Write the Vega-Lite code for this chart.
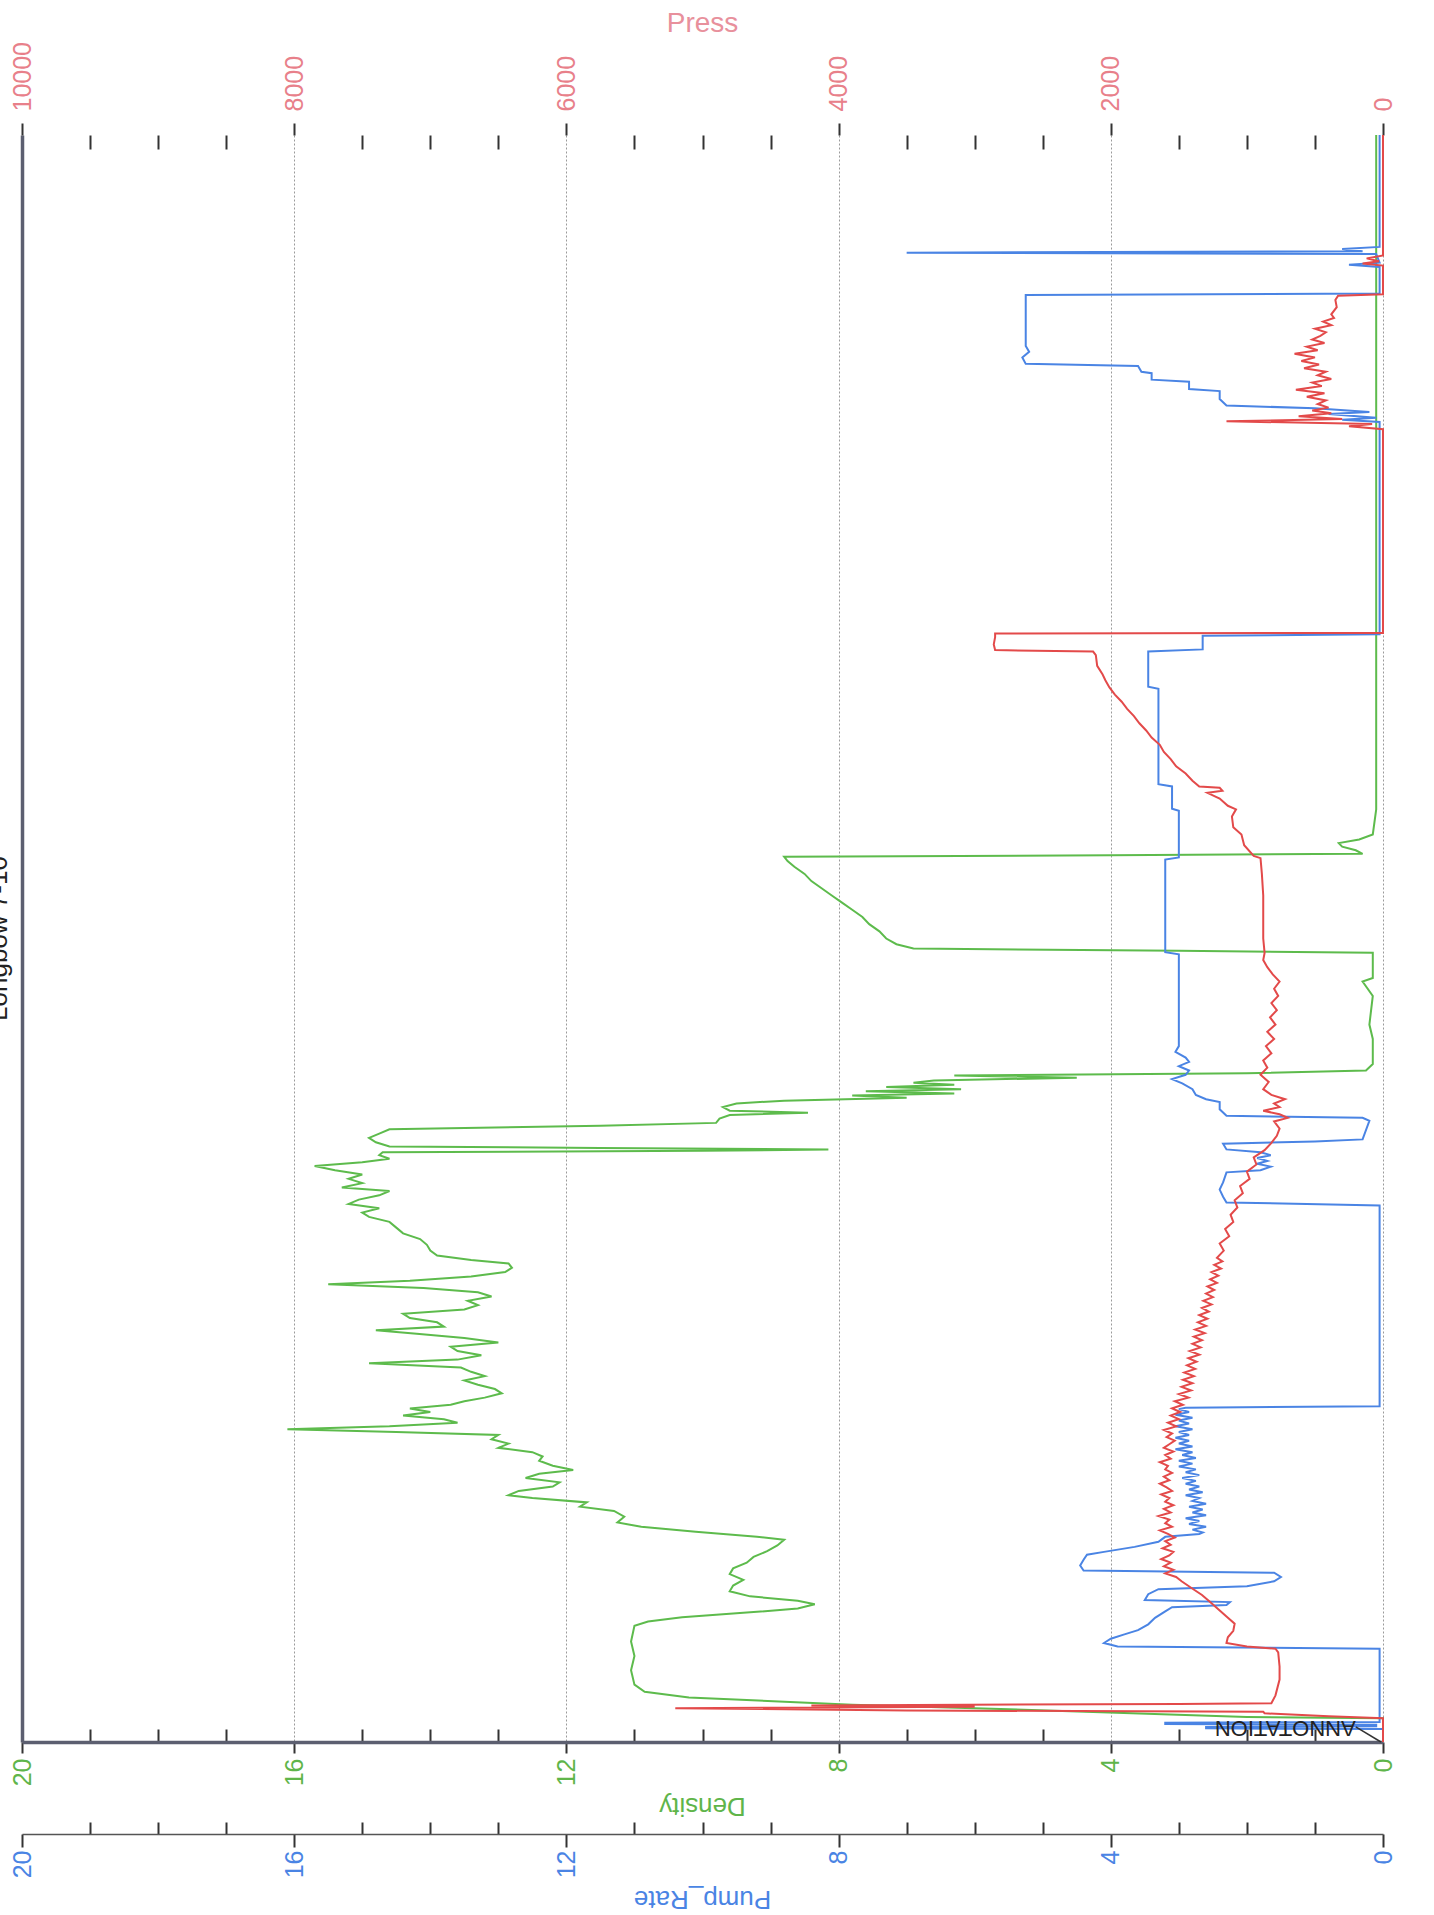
{
  "$schema": "https://vega.github.io/schema/vega-lite/v6.json",
  "width": 1361,
  "height": 1607,
  "autosize": {"type": "none"},
  "padding": {"left": 22, "top": 135, "right": 51, "bottom": 173},
  "background": "white",
  "config": {
    "view": {"stroke": null},
    "font": "Liberation Sans",
    "axis": {"labelFont": "Liberation Sans", "titleFont": "Liberation Sans", "titleFontWeight": "normal"}
  },
  "datasets": {
    "density": [
      {"t":0,"v":0},{"t":3.3,"v":0},{"t":3.5,"v":2.0},{"t":4.3,"v":4.6},{"t":5.2,"v":7.8},{"t":6.2,"v":10.2},{"t":7.0,"v":10.85},{"t":8.0,"v":11.0},{"t":10,"v":11.05},{"t":12,"v":11.0},{"t":14,"v":11.05},{"t":16.2,"v":11.0},{"t":16.8,"v":10.8},{"t":17.4,"v":10.3},{"t":18.0,"v":9.4},{"t":18.6,"v":8.6},{"t":19.2,"v":8.35},{"t":19.7,"v":8.6},{"t":20.3,"v":9.3},{"t":21.0,"v":9.6},{"t":21.8,"v":9.55},{"t":22.6,"v":9.4},{"t":23.4,"v":9.6},{"t":24.2,"v":9.55},{"t":25.0,"v":9.35},{"t":25.8,"v":9.25},{"t":26.6,"v":9.05},{"t":27.4,"v":8.9},{"t":28.2,"v":8.8},{"t":28.6,"v":9.2},{"t":29.3,"v":10.1},{"t":30.0,"v":10.9},{"t":30.6,"v":11.25},{"t":31.4,"v":11.15},{"t":32.2,"v":11.3},{"t":32.8,"v":11.8},{"t":33.4,"v":11.7},{"t":34.0,"v":12.5},{"t":34.4,"v":12.85},{"t":35.0,"v":12.7},{"t":35.6,"v":12.2},{"t":36.2,"v":12.1},{"t":36.8,"v":12.6},{"t":37.4,"v":12.4},{"t":37.9,"v":11.9},{"t":38.5,"v":12.2},{"t":39.2,"v":12.4},{"t":39.8,"v":12.35},{"t":40.4,"v":12.5},{"t":41.0,"v":13.0},{"t":41.6,"v":12.85},{"t":42.2,"v":13.1},{"t":42.8,"v":13.0},{"t":43.2,"v":14.5},{"t":43.6,"v":16.1},{"t":44.0,"v":14.6},{"t":44.5,"v":13.6},{"t":45.0,"v":13.8},{"t":45.5,"v":14.4},{"t":46.0,"v":14.0},{"t":46.5,"v":14.3},{"t":47.0,"v":13.7},{"t":47.5,"v":13.5},{"t":48.0,"v":13.2},{"t":48.6,"v":12.95},{"t":49.2,"v":13.05},{"t":49.8,"v":13.3},{"t":50.4,"v":13.5},{"t":51.0,"v":13.2},{"t":51.6,"v":13.4},{"t":52.2,"v":13.55},{"t":52.8,"v":14.9},{"t":53.3,"v":13.6},{"t":53.9,"v":13.25},{"t":54.5,"v":13.6},{"t":55.1,"v":13.7},{"t":55.7,"v":13.0},{"t":56.3,"v":13.5},{"t":56.9,"v":14.2},{"t":57.4,"v":14.8},{"t":57.9,"v":13.8},{"t":58.5,"v":13.9},{"t":59.1,"v":14.3},{"t":59.7,"v":14.4},{"t":60.3,"v":13.5},{"t":60.9,"v":13.3},{"t":61.5,"v":13.45},{"t":62.1,"v":13.1},{"t":62.7,"v":13.3},{"t":63.3,"v":14.1},{"t":63.8,"v":15.5},{"t":64.3,"v":14.3},{"t":64.9,"v":13.4},{"t":65.5,"v":12.9},{"t":66.1,"v":12.8},{"t":66.7,"v":12.85},{"t":67.2,"v":13.4},{"t":67.8,"v":13.9},{"t":68.5,"v":14.0},{"t":69.3,"v":14.05},{"t":70.1,"v":14.15},{"t":70.9,"v":14.4},{"t":71.7,"v":14.5},{"t":72.5,"v":14.6},{"t":73.2,"v":14.9},{"t":73.8,"v":15.0},{"t":74.4,"v":14.75},{"t":75.0,"v":15.2},{"t":75.6,"v":15.05},{"t":76.2,"v":14.75},{"t":76.8,"v":14.6},{"t":77.3,"v":15.3},{"t":77.9,"v":15.0},{"t":78.5,"v":15.2},{"t":79.1,"v":15.0},{"t":79.7,"v":15.4},{"t":80.3,"v":15.7},{"t":80.8,"v":15.0},{"t":81.3,"v":14.6},{"t":81.8,"v":14.75},{"t":82.2,"v":14.7},{"t":82.4,"v":10.0},{"t":82.6,"v":8.15},{"t":82.8,"v":11.5},{"t":83.0,"v":14.6},{"t":83.6,"v":14.8},{"t":84.2,"v":14.9},{"t":84.8,"v":14.75},{"t":85.4,"v":14.6},{"t":85.9,"v":11.5},{"t":86.3,"v":9.8},{"t":86.9,"v":9.75},{"t":87.4,"v":9.6},{"t":87.7,"v":8.45},{"t":88.0,"v":9.6},{"t":88.5,"v":9.7},{"t":89.0,"v":9.5},{"t":89.4,"v":8.8},{"t":89.8,"v":7.0},{"t":90.1,"v":7.8},{"t":90.4,"v":6.3},{"t":90.7,"v":7.6},{"t":91.0,"v":6.2},{"t":91.3,"v":7.3},{"t":91.6,"v":6.3},{"t":91.9,"v":6.9},{"t":92.2,"v":6.6},{"t":92.6,"v":4.5},{"t":92.9,"v":6.3},{"t":93.2,"v":2.0},{"t":93.6,"v":0.25},{"t":94.5,"v":0.15},{"t":98,"v":0.15},{"t":100,"v":0.2},{"t":104,"v":0.15},{"t":106,"v":0.3},{"t":106.5,"v":0.15},{"t":110,"v":0.15},{"t":110.3,"v":3.0},{"t":110.6,"v":6.9},{"t":111.2,"v":7.15},{"t":112,"v":7.3},{"t":113,"v":7.4},{"t":114,"v":7.55},{"t":115,"v":7.65},{"t":116,"v":7.8},{"t":117,"v":7.95},{"t":118,"v":8.1},{"t":119,"v":8.25},{"t":120,"v":8.4},{"t":121,"v":8.5},{"t":122,"v":8.65},{"t":122.8,"v":8.75},{"t":123.4,"v":8.8},{"t":123.6,"v":4.0},{"t":123.8,"v":0.3},{"t":124.3,"v":0.4},{"t":124.8,"v":0.6},{"t":125.3,"v":0.65},{"t":125.8,"v":0.35},{"t":126.5,"v":0.15},{"t":130,"v":0.1},{"t":224,"v":0.1}
    ],
    "pump": [
      {"t":0,"v":0},{"t":1.8,"v":0},{"t":1.9,"v":2.6},{"t":2.1,"v":2.6},{"t":2.2,"v":0.1},{"t":2.4,"v":0.1},{"t":2.5,"v":3.2},{"t":2.7,"v":3.2},{"t":2.8,"v":0.05},{"t":13.0,"v":0.05},{"t":13.3,"v":3.9},{"t":13.8,"v":4.1},{"t":14.4,"v":4.0},{"t":15.0,"v":3.8},{"t":15.6,"v":3.6},{"t":16.4,"v":3.45},{"t":17.3,"v":3.35},{"t":18.2,"v":3.2},{"t":18.8,"v":3.1},{"t":19.1,"v":2.3},{"t":19.5,"v":2.25},{"t":19.8,"v":3.5},{"t":20.6,"v":3.45},{"t":21.3,"v":3.3},{"t":21.7,"v":2.0},{"t":22.4,"v":1.6},{"t":23.0,"v":1.5},{"t":23.6,"v":1.6},{"t":23.9,"v":4.4},{"t":24.6,"v":4.45},{"t":25.4,"v":4.4},{"t":26.1,"v":4.35},{"t":26.5,"v":4.1},{"t":27.2,"v":3.65},{"t":27.9,"v":3.3},{"t":28.6,"v":3.2},{"t":29.0,"v":2.7},
      {"t":29.2,"v":2.65},{"t":29.6,"v":2.8},{"t":30.0,"v":2.6},{"t":30.4,"v":2.85},{"t":30.8,"v":2.7},{"t":31.2,"v":2.9},{"t":31.6,"v":2.6},{"t":32.0,"v":2.8},{"t":32.4,"v":2.65},{"t":32.8,"v":2.85},{"t":33.2,"v":2.6},{"t":33.6,"v":2.8},{"t":34.0,"v":2.7},{"t":34.4,"v":2.9},{"t":34.8,"v":2.65},{"t":35.2,"v":2.85},{"t":35.6,"v":2.7},{"t":36.0,"v":2.9},{"t":36.4,"v":2.75},{"t":36.8,"v":2.95},{"t":37.2,"v":2.7},{"t":37.6,"v":2.9},{"t":38.0,"v":2.75},{"t":38.4,"v":3.0},{"t":38.8,"v":2.8},{"t":39.2,"v":3.0},{"t":39.6,"v":2.75},{"t":40.0,"v":2.95},{"t":40.4,"v":2.8},{"t":40.8,"v":3.05},{"t":41.2,"v":2.8},{"t":41.6,"v":3.0},{"t":42.0,"v":2.85},{"t":42.4,"v":3.05},{"t":42.8,"v":2.85},{"t":43.2,"v":3.0},{"t":43.6,"v":2.8},{"t":44.0,"v":3.05},{"t":44.4,"v":2.85},{"t":44.8,"v":3.0},{"t":45.2,"v":2.8},{"t":45.6,"v":3.05},{"t":46.0,"v":2.85},{"t":46.4,"v":3.0},{"t":46.6,"v":2.9},{"t":46.8,"v":0.05},
      {"t":74.8,"v":0.05},{"t":75.2,"v":2.3},{"t":76.0,"v":2.35},{"t":77.0,"v":2.4},{"t":78.0,"v":2.35},{"t":79.4,"v":2.3},{"t":79.7,"v":1.8},{"t":80.2,"v":1.65},{"t":80.6,"v":1.85},{"t":81.0,"v":1.7},{"t":81.4,"v":1.85},{"t":81.8,"v":1.65},{"t":82.2,"v":1.8},{"t":82.6,"v":2.3},{"t":83.4,"v":2.35},{"t":83.7,"v":1.0},{"t":84.0,"v":0.3},{"t":86.6,"v":0.2},{"t":87.0,"v":0.3},{"t":87.3,"v":2.3},{"t":88.2,"v":2.4},{"t":89.2,"v":2.4},{"t":89.6,"v":2.6},{"t":90.2,"v":2.75},{"t":91.0,"v":2.8},{"t":91.8,"v":2.95},{"t":92.4,"v":3.1},{"t":93.0,"v":2.9},{"t":93.6,"v":2.85},{"t":94.2,"v":3.0},{"t":94.8,"v":2.85},{"t":95.4,"v":2.9},{"t":96.2,"v":3.05},{"t":97,"v":3.0},{"t":100,"v":3.0},{"t":105,"v":3.0},{"t":109.8,"v":3.0},{"t":110.1,"v":3.2},{"t":123.0,"v":3.2},{"t":123.3,"v":3.0},{"t":129.8,"v":3.0},{"t":130.1,"v":3.1},{"t":133.2,"v":3.1},{"t":133.5,"v":3.3},{"t":146.8,"v":3.3},{"t":147.1,"v":3.45},{"t":152.0,"v":3.45},{"t":152.3,"v":2.65},{"t":154.2,"v":2.65},{"t":154.4,"v":0.05},
      {"t":184.0,"v":0.05},{"t":184.3,"v":0.6},{"t":184.6,"v":0.1},{"t":185.1,"v":0.8},{"t":185.4,"v":0.2},{"t":185.9,"v":1.0},{"t":186.3,"v":2.3},{"t":187.2,"v":2.4},{"t":188.3,"v":2.4},{"t":188.6,"v":2.85},{"t":189.6,"v":2.85},{"t":189.9,"v":3.4},{"t":190.8,"v":3.4},{"t":191.0,"v":3.55},{"t":191.8,"v":3.6},{"t":192.1,"v":5.25},{"t":193.0,"v":5.3},{"t":193.8,"v":5.2},{"t":194.6,"v":5.25},{"t":201.7,"v":5.25},{"t":201.9,"v":0.05},{"t":205.6,"v":0.05},{"t":205.9,"v":0.5},{"t":206.2,"v":0.05},{"t":207.4,"v":0.1},{"t":207.6,"v":7.0},{"t":207.8,"v":0.3},{"t":208.1,"v":0.6},{"t":208.4,"v":0.05},{"t":224,"v":0.05}
    ],
    "press": [
      {"t":0,"v":0},{"t":3.3,"v":0},{"t":3.6,"v":400},{"t":4.0,"v":870},{"t":4.2,"v":880},{"t":4.4,"v":3500},{"t":4.7,"v":5200},{"t":4.9,"v":3000},{"t":5.1,"v":4200},{"t":5.3,"v":1500},{"t":5.4,"v":820},{"t":6.5,"v":790},{"t":8.7,"v":760},{"t":10.5,"v":760},{"t":12.5,"v":770},{"t":13.0,"v":790},{"t":13.3,"v":1000},{"t":13.8,"v":1150},{"t":14.6,"v":1140},{"t":15.5,"v":1100},{"t":16.5,"v":1090},{"t":17.5,"v":1150},{"t":18.5,"v":1210},{"t":19.5,"v":1270},{"t":20.5,"v":1330},{"t":21.5,"v":1410},{"t":22.4,"v":1480},
      {"t":23.0,"v":1520},{"t":23.5,"v":1600},{"t":24.0,"v":1540},{"t":24.5,"v":1610},{"t":25.0,"v":1560},{"t":25.5,"v":1630},{"t":26.0,"v":1570},{"t":26.5,"v":1540},{"t":27.0,"v":1620},{"t":27.5,"v":1560},{"t":28.0,"v":1600},{"t":28.5,"v":1530},{"t":29.0,"v":1580},{"t":29.5,"v":1640},{"t":30.0,"v":1550},{"t":30.5,"v":1600},{"t":31.0,"v":1570},{"t":31.5,"v":1650},{"t":32.0,"v":1560},{"t":32.5,"v":1610},{"t":33.0,"v":1540},{"t":33.5,"v":1600},{"t":34.0,"v":1570},{"t":34.5,"v":1630},{"t":35.0,"v":1550},{"t":35.5,"v":1590},{"t":36.0,"v":1640},{"t":36.5,"v":1570},{"t":37.0,"v":1610},{"t":37.5,"v":1550},{"t":38.0,"v":1600},{"t":38.5,"v":1580},{"t":39.0,"v":1640},{"t":39.5,"v":1560},{"t":40.0,"v":1600},{"t":40.5,"v":1540},{"t":41.0,"v":1610},{"t":41.5,"v":1570},{"t":42.0,"v":1530},{"t":42.5,"v":1590},{"t":43.0,"v":1550},{"t":43.5,"v":1610},{"t":44.0,"v":1520},{"t":44.5,"v":1580},{"t":45.0,"v":1500},{"t":45.5,"v":1560},{"t":46.0,"v":1490},{"t":46.5,"v":1550},{"t":47.0,"v":1470},
      {"t":47.5,"v":1530},{"t":48.0,"v":1430},{"t":48.5,"v":1500},{"t":49.0,"v":1410},{"t":49.5,"v":1480},{"t":50.0,"v":1400},{"t":50.5,"v":1470},{"t":51.0,"v":1390},{"t":51.5,"v":1460},{"t":52.0,"v":1380},{"t":52.5,"v":1440},{"t":53.0,"v":1370},{"t":53.5,"v":1430},{"t":54.0,"v":1350},{"t":54.5,"v":1420},{"t":55.0,"v":1340},{"t":55.5,"v":1400},{"t":56.0,"v":1330},{"t":56.5,"v":1390},{"t":57.0,"v":1310},{"t":57.5,"v":1380},{"t":58.0,"v":1300},{"t":58.5,"v":1360},{"t":59.0,"v":1290},{"t":59.5,"v":1350},{"t":60.0,"v":1280},{"t":60.5,"v":1330},{"t":61.0,"v":1260},{"t":61.5,"v":1320},{"t":62.0,"v":1250},{"t":62.5,"v":1300},{"t":63.0,"v":1240},{"t":63.5,"v":1290},{"t":64.0,"v":1220},{"t":64.5,"v":1270},{"t":65.0,"v":1210},{"t":65.5,"v":1260},{"t":66.0,"v":1190},{"t":66.5,"v":1240},{"t":67.0,"v":1180},
      {"t":67.5,"v":1220},{"t":68.5,"v":1170},{"t":69.5,"v":1200},{"t":70.5,"v":1130},{"t":71.5,"v":1160},{"t":72.5,"v":1100},{"t":73.5,"v":1120},{"t":74.5,"v":1070},{"t":75.5,"v":1090},{"t":76.5,"v":1030},{"t":77.5,"v":1050},{"t":78.5,"v":980},{"t":79.5,"v":1000},{"t":80.5,"v":930},{"t":81.5,"v":950},{"t":82.5,"v":870},{"t":83.5,"v":820},{"t":84.5,"v":780},{"t":85.5,"v":760},{"t":86.5,"v":800},{"t":87.0,"v":700},{"t":87.5,"v":760},{"t":88.0,"v":880},{"t":88.5,"v":760},{"t":89.0,"v":800},{"t":89.6,"v":720},{"t":90.2,"v":820},{"t":91,"v":880},{"t":92,"v":840},{"t":93,"v":900},{"t":94,"v":850},{"t":95,"v":880},{"t":96,"v":820},{"t":97,"v":860},{"t":98,"v":800},{"t":99,"v":850},{"t":100,"v":790},{"t":101,"v":830},{"t":102,"v":780},{"t":103,"v":820},{"t":104,"v":770},{"t":105,"v":800},{"t":106,"v":760},{"t":107,"v":810},{"t":108,"v":850},{"t":109,"v":880},{"t":110,"v":870},{"t":112,"v":880},{"t":115,"v":880},{"t":118,"v":880},{"t":121,"v":890},{"t":123.2,"v":900},{"t":123.5,"v":950},{"t":125,"v":1020},{"t":126.5,"v":1040},{"t":127.5,"v":1100},{"t":129,"v":1110},{"t":130,"v":1080},{"t":130.5,"v":1140},{"t":131.5,"v":1200},{"t":132.3,"v":1290},{"t":132.6,"v":1180},{"t":133.0,"v":1200},{"t":133.2,"v":1350},{"t":134,"v":1400},{"t":135,"v":1450},{"t":136,"v":1520},{"t":137,"v":1560},{"t":138,"v":1610},{"t":139,"v":1640},{"t":140,"v":1700},{"t":141,"v":1740},{"t":142,"v":1790},{"t":143,"v":1830},{"t":144,"v":1880},{"t":145,"v":1920},{"t":146,"v":1970},{"t":147,"v":2010},{"t":148,"v":2040},{"t":148.8,"v":2060},{"t":150,"v":2100},{"t":151.5,"v":2110},{"t":152.0,"v":2130},{"t":152.2,"v":2850},{"t":153,"v":2860},{"t":154,"v":2850},{"t":154.5,"v":2850},{"t":154.6,"v":0},
      {"t":183,"v":0},{"t":183.4,"v":250},{"t":183.7,"v":80},{"t":184.1,"v":1150},{"t":184.4,"v":300},{"t":184.8,"v":620},{"t":185.2,"v":380},{"t":185.6,"v":520},{"t":186.0,"v":400},{"t":186.5,"v":480},{"t":187,"v":420},{"t":187.5,"v":560},{"t":188,"v":430},{"t":188.5,"v":640},{"t":189,"v":450},{"t":189.5,"v":520},{"t":190,"v":380},{"t":190.5,"v":480},{"t":191,"v":420},{"t":191.5,"v":580},{"t":192,"v":470},{"t":192.5,"v":600},{"t":193,"v":500},{"t":193.5,"v":650},{"t":194,"v":480},{"t":194.5,"v":560},{"t":195,"v":430},{"t":195.5,"v":520},{"t":196,"v":460},{"t":196.5,"v":420},{"t":197,"v":500},{"t":197.5,"v":380},{"t":198,"v":440},{"t":198.5,"v":360},{"t":199,"v":380},{"t":200,"v":340},{"t":201,"v":350},{"t":201.6,"v":330},{"t":201.8,"v":0},{"t":205.8,"v":0},{"t":206.1,"v":150},{"t":206.4,"v":30},{"t":206.8,"v":120},{"t":207.2,"v":0},{"t":224,"v":0}
    ],
    "annotation": [{"t":0.56,"v":0.4,"label":"ANNOTATION"}],
    "leader": [{"t":0.0,"v":0.03},{"t":2.1,"v":0.4}],
    "heading": [{"t":112,"v":20.15,"label":"Longbow 7-10"}]
  },
  "layer": [
    {
      "data": {"name": "density"},
      "mark": {"type": "line", "color": "#5dbb4c", "strokeWidth": 2},
      "encoding": {
        "x": {
          "field": "v", "type": "quantitative",
          "scale": {"domain": [0, 20], "reverse": true, "nice": false, "zero": false},
          "axis": {
            "orient": "bottom",
            "values": [0,1,2,3,4,5,6,7,8,9,10,11,12,13,14,15,16,17,18,19,20],
            "labelExpr": "datum.value % 4 === 0 ? datum.label : ''",
            "labelAngle": -90, "labelAlign": "right", "labelBaseline": "middle",
            "labelColor": "#5fb54a", "labelFontSize": 25, "labelPadding": 5,
            "labelOverlap": false, "labelFlush": false, "labelBound": false,
            "tickColor": "#333333", "tickWidth": 2,
            "tickSize": {"condition": {"test": "datum.value % 4 === 0", "value": 11}, "value": -13},
            "domainColor": "#5c5f70", "domainWidth": 3.5,
            "grid": true,
            "gridOpacity": {"condition": {"test": "datum.value % 4 === 0", "value": 1}, "value": 0},
            "gridColor": {"condition": {"test": "datum.value === 20", "value": "#5c5f70"}, "value": "#9a9a9a"},
            "gridWidth": {"condition": {"test": "datum.value === 20", "value": 3.5}, "value": 1},
            "gridDash": {"condition": {"test": "datum.value === 20", "value": [1, 0]}, "value": [2, 2]},
            "title": "Density", "titleColor": "#5fb54a", "titleFontSize": 26,
            "titleAngle": 180, "titleX": 680, "titleY": 63, "titleAlign": "center", "titleBaseline": "middle"
          }
        },
        "y": {
          "field": "t", "type": "quantitative",
          "scale": {"domain": [0, 224], "nice": false, "zero": false},
          "axis": {
            "orient": "right",
            "values": [0, 22.4, 44.8, 67.2, 89.6, 112, 134.4, 156.8, 179.2, 201.6, 224],
            "format": ".1f",
            "labelAngle": -90, "labelAlign": "center", "labelBaseline": "top",
            "labelFontSize": 27, "labelColor": "#333333", "labelPadding": 4,
            "labelOverlap": false, "labelFlush": false, "labelBound": false,
            "tickSize": 16, "tickColor": "#333333", "tickWidth": 1.5,
            "domainColor": "#888888", "domainWidth": 1,
            "grid": true, "gridColor": "#9a9a9a", "gridDash": [2, 2], "gridWidth": 1,
            "title": null
          }
        },
        "order": {"field": "t", "type": "quantitative"}
      }
    },
    {
      "data": {"name": "pump"},
      "mark": {"type": "line", "color": "#4a84e4", "strokeWidth": 2},
      "encoding": {
        "x": {
          "field": "v", "type": "quantitative",
          "scale": {"domain": [0, 20], "reverse": true, "nice": false, "zero": false},
          "axis": {
            "orient": "bottom", "offset": 92,
            "values": [0,1,2,3,4,5,6,7,8,9,10,11,12,13,14,15,16,17,18,19,20],
            "labelExpr": "datum.value % 4 === 0 ? datum.label : ''",
            "labelAngle": -90, "labelAlign": "right", "labelBaseline": "middle",
            "labelColor": "#4a84e4", "labelFontSize": 25, "labelPadding": 3,
            "labelOverlap": false, "labelFlush": false, "labelBound": false,
            "tickColor": "#333333", "tickWidth": 2,
            "tickSize": {"condition": {"test": "datum.value % 4 === 0", "value": 13}, "value": -12},
            "domainColor": "#555555", "domainWidth": 1.5,
            "grid": false,
            "title": "Pump_Rate", "titleColor": "#4a84e4", "titleFontSize": 26,
            "titleAngle": 180, "titleX": 680, "titleY": 64, "titleAlign": "center", "titleBaseline": "middle"
          }
        },
        "y": {"field": "t", "type": "quantitative", "scale": {"domain": [0, 224], "nice": false, "zero": false}, "axis": null},
        "order": {"field": "t", "type": "quantitative"}
      }
    },
    {
      "data": {"name": "press"},
      "mark": {"type": "line", "color": "#e34a4a", "strokeWidth": 2},
      "encoding": {
        "x": {
          "field": "v", "type": "quantitative",
          "scale": {"domain": [0, 10000], "reverse": true, "nice": false, "zero": false},
          "axis": {
            "orient": "top",
            "values": [0,500,1000,1500,2000,2500,3000,3500,4000,4500,5000,5500,6000,6500,7000,7500,8000,8500,9000,9500,10000],
            "labelExpr": "datum.value % 2000 === 0 ? format(datum.value, 'd') : ''",
            "labelAngle": -90, "labelAlign": "left", "labelBaseline": "middle",
            "labelColor": "#e8808a", "labelFontSize": 25, "labelPadding": 12,
            "labelOverlap": false, "labelFlush": false, "labelBound": false,
            "tickColor": "#333333", "tickWidth": 2,
            "tickSize": {"condition": {"test": "datum.value % 2000 === 0", "value": 12}, "value": -14},
            "domain": false, "grid": false,
            "title": "Press", "titleColor": "#e8909c", "titleFontSize": 28,
            "titleAngle": 0, "titleX": 680, "titleY": -112, "titleAlign": "center", "titleBaseline": "middle"
          }
        },
        "y": {"field": "t", "type": "quantitative", "scale": {"domain": [0, 224], "nice": false, "zero": false}, "axis": null},
        "order": {"field": "t", "type": "quantitative"}
      }
    },
    {
      "data": {"name": "leader"},
      "mark": {"type": "line", "color": "#333333", "strokeWidth": 1.5},
      "encoding": {
        "x": {"field": "v", "type": "quantitative", "scale": {"domain": [0, 20], "reverse": true, "nice": false, "zero": false}, "axis": null},
        "y": {"field": "t", "type": "quantitative", "scale": {"domain": [0, 224], "nice": false, "zero": false}, "axis": null},
        "order": {"field": "t", "type": "quantitative"}
      }
    },
    {
      "data": {"name": "annotation"},
      "mark": {"type": "text", "angle": 180, "align": "left", "baseline": "top", "font": "Liberation Sans", "fontSize": 22, "color": "#222222"},
      "encoding": {
        "x": {"field": "v", "type": "quantitative", "scale": {"domain": [0, 20], "reverse": true, "nice": false, "zero": false}, "axis": null},
        "y": {"field": "t", "type": "quantitative", "scale": {"domain": [0, 224], "nice": false, "zero": false}, "axis": null},
        "text": {"field": "label"}
      }
    },
    {
      "data": {"name": "heading"},
      "mark": {"type": "text", "angle": -90, "align": "center", "baseline": "bottom", "font": "Liberation Sans", "fontSize": 26, "color": "#222222"},
      "encoding": {
        "x": {"field": "v", "type": "quantitative", "scale": {"domain": [0, 20], "reverse": true, "nice": false, "zero": false}, "axis": null},
        "y": {"field": "t", "type": "quantitative", "scale": {"domain": [0, 224], "nice": false, "zero": false}, "axis": null},
        "text": {"field": "label"}
      }
    }
  ],
  "resolve": {"scale": {"x": "independent"}}
}
